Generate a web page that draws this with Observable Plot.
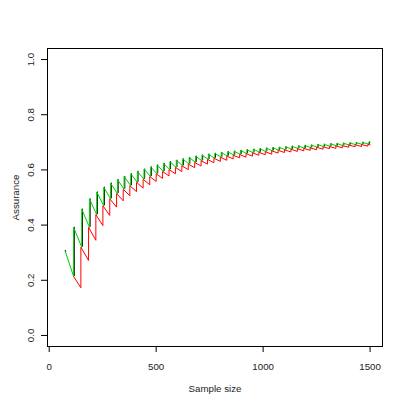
<!DOCTYPE html>
<html>
<head>
<meta charset="utf-8">
<script src="https://cdn.jsdelivr.net/npm/d3@7"></script>
<script src="https://cdn.jsdelivr.net/npm/@observablehq/plot@0.6"></script>
<style>
  html, body { margin: 0; padding: 0; background: #fff; }
</style>
</head>
<body>
<div id="chart"></div>
<script>
// Sample sizes at which the green/black curve jumps
const jumpN = [114,152,188,222,255,287,319,350,381,412,443,474,504,534,564,594,624,654,684,714,
  744,774,804,834,864,894,924,954,984,1014,1044,1074,1104,1134,1164,1194,1224,1254,1284,1314,
  1344,1374,1404,1434,1464,1494];
// Green assurance right after each jump (tooth top)
const greenTop = [0.392,0.458,0.495,0.520,0.537,0.552,0.565,0.576,0.586,0.595,0.603,0.611,0.618,0.624,
  0.630,0.635,0.640,0.645,0.650,0.654,0.657,0.660,0.663,0.666,0.668,0.671,0.673,0.675,0.677,0.679,
  0.681,0.682,0.684,0.686,0.687,0.689,0.690,0.692,0.693,0.695,0.696,0.697,0.698,0.699,0.700,0.701];
// Green assurance right before each jump (tooth bottom)
const greenBottom = [0.214,0.320,0.392,0.438,0.470,0.495,0.514,0.530,0.543,0.555,0.566,0.576,0.586,0.594,
  0.601,0.609,0.615,0.621,0.627,0.633,0.638,0.642,0.646,0.650,0.653,0.656,0.659,0.662,0.664,0.666,
  0.669,0.671,0.673,0.675,0.677,0.678,0.680,0.682,0.684,0.685,0.687,0.688,0.690,0.691,0.692,0.693];
const greenStart = {n: 75, a: 0.305};
const greenEnd = {n: 1500, a: 0.700};

// Sample sizes at which the red curve jumps
const redJumpN = [148,184,218,251,283,315,346,377,408,439,470,500,530,560,590,620,650,680,710,740,
  770,800,830,860,890,920,950,980,1010,1040,1070,1100,1130,1160,1190,1220,1250,1280,1310,1340,
  1370,1400,1430,1460,1490];
// Red assurance right before each jump
const redBottom = [0.173,0.272,0.345,0.398,0.435,0.465,0.488,0.506,0.521,0.534,0.546,0.558,0.569,0.578,
  0.586,0.594,0.601,0.608,0.614,0.621,0.626,0.631,0.635,0.640,0.644,0.646,0.650,0.653,0.655,0.657,
  0.661,0.663,0.665,0.667,0.669,0.671,0.673,0.675,0.677,0.678,0.680,0.682,0.684,0.685,0.686];
const redEnd = {n: 1500, a: 0.691};

const xTicks = [0, 500, 1000, 1500];
const yTicks = [0, 0.2, 0.4, 0.6, 0.8, 1.0];

// Build the line tables
const green = [greenStart];
jumpN.forEach((n, i) => { green.push({n, a: greenBottom[i]}); green.push({n, a: greenTop[i]}); });
green.push(greenEnd);

const blackJumps = jumpN.map((n, i) => ({n, lo: greenBottom[i], hi: greenTop[i]}));

const red = [{n: jumpN[0], a: greenBottom[0]}];
redJumpN.forEach((n, i) => { red.push({n, a: redBottom[i]}); red.push({n, a: greenBottom[i + 1]}); });
red.push(redEnd);

const font = "'Liberation Sans', Arial, Helvetica, sans-serif";

const chart = Plot.plot({
  width: 407,
  height: 406,
  marginLeft: 47,
  marginRight: 25,
  marginTop: 48,
  marginBottom: 60,
  style: {fontFamily: font, fontSize: "9.7px", background: "#fff", color: "#000"},
  x: {domain: [-8, 1558]},
  y: {domain: [-0.04, 1.04]},
  marks: [
    Plot.frame({stroke: "#000", strokeWidth: 1}),
    Plot.axisX({ticks: xTicks, tickSize: 6, tickFormat: () => "", label: null}),
    Plot.axisY({ticks: yTicks, tickSize: 6, tickFormat: () => "", label: null}),
    Plot.text(xTicks, {x: d => d, text: d => String(d), frameAnchor: "bottom", dy: 23, lineAnchor: "bottom", textAnchor: "middle", fill: "#222"}),
    Plot.text(yTicks, {y: d => d, text: d => d.toFixed(1), frameAnchor: "left", dx: -14, rotate: -90, lineAnchor: "bottom", textAnchor: "middle", fill: "#222"}),
    Plot.text(["Sample size"], {frameAnchor: "bottom", dy: 45, lineAnchor: "bottom", textAnchor: "middle", fill: "#222"}),
    Plot.text(["Assurance"], {frameAnchor: "left", dx: -29, rotate: -90, lineAnchor: "bottom", textAnchor: "middle", fill: "#222"}),
    // black curve: visible only where it peeks out beside the green jumps
    Plot.ruleX(blackJumps, {x: "n", y1: "lo", y2: "hi", stroke: "#000", strokeWidth: 1, dx: 0.7}),
    Plot.line([greenStart, {n: greenStart.n + 2, a: greenStart.a - 0.004}], {x: "n", y: "a", stroke: "#000", strokeWidth: 1, dy: -1}),
    Plot.line(green, {x: "n", y: "a", stroke: "#00CD00", strokeWidth: 1}),
    Plot.line(red, {x: "n", y: "a", stroke: "#FF0000", strokeWidth: 1})
  ]
});
document.getElementById("chart").appendChild(chart);
</script>
</body>
</html>
